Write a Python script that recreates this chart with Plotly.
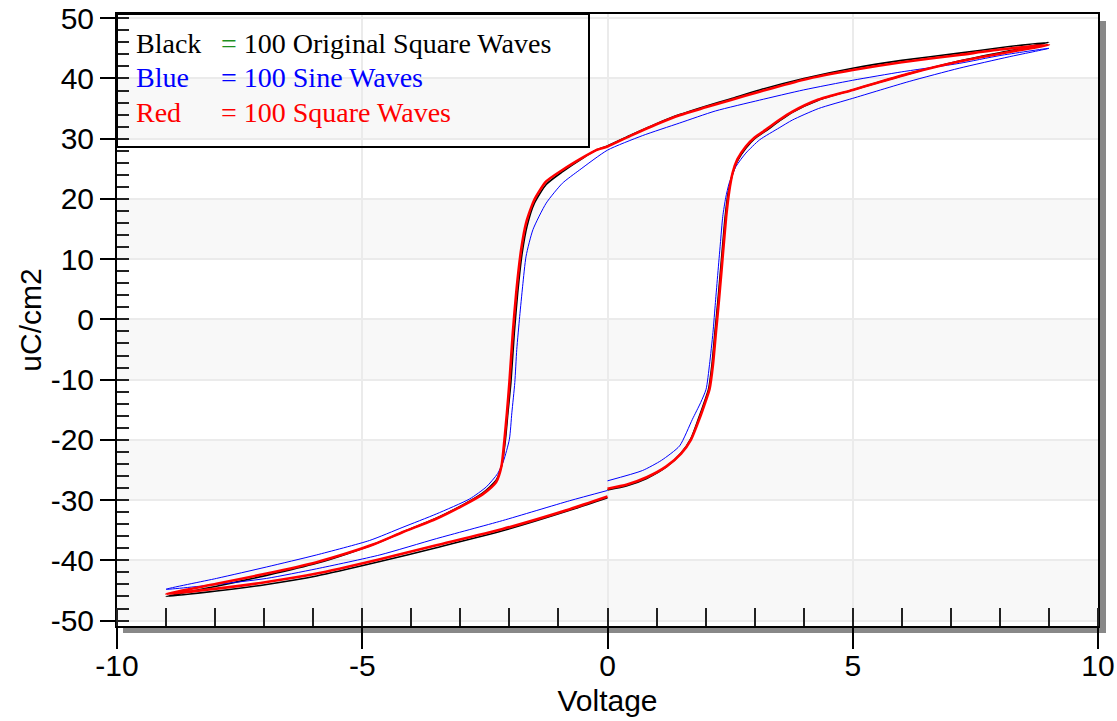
import plotly.graph_objects as go

# ---------------- data ----------------
# Red = 100 Square Waves : loop starts at V=0 on the lower branch, rises to +9 V,
# falls along the upper branch to -9 V, then returns to 0 V.
red_v = [0.0, 0.4, 0.8, 1.2, 1.5, 1.7, 1.87, 2.0, 2.08, 2.15, 2.21, 2.27, 2.32, 2.37, 2.42,
         2.48, 2.55, 2.65, 2.82, 3.0, 3.23, 3.5, 3.77, 4.3, 5.0, 5.5, 6.15, 7.17, 8.19, 9.0,
         8.0, 7.17, 6.0, 5.0, 4.0, 3.1, 2.5, 2.0, 1.47, 1.0, 0.5, 0.0, -0.23, -0.5, -0.92,
         -1.25, -1.49, -1.66, -1.76, -1.86, -1.93, -2.0, -2.05, -2.1, -2.16, -2.27, -2.54,
         -2.95, -3.49, -4.17, -4.75, -5.3, -5.93, -6.95, -7.97, -9.0,
         -7.97, -6.95, -5.93, -4.64, -3.49, -2.14, -0.77, 0.0]
red_p = [-28.1, -27.4, -26.2, -24.4, -22.3, -20.0, -16.6, -13.6, -11.6, -7.5, -2.2, 3.0, 7.7, 12.5, 17.1,
         21.2, 24.3, 26.6, 28.7, 30.2, 31.5, 33.1, 34.5, 36.5, 38.1, 39.3, 40.8, 42.8, 44.4, 45.6,
         44.8, 43.9, 42.7, 41.4, 39.8, 37.8, 36.4, 35.2, 33.9, 32.4, 30.6, 28.7, 28.1, 26.9, 24.8,
         22.9, 19.9, 16.0, 11.6, 4.5, -2.2, -10.5, -15.5, -19.9, -24.3, -27.0, -29.0,
         -30.9, -33.1, -35.3, -37.3, -38.8, -40.3, -42.2, -43.9, -45.6,
         -44.7, -43.6, -42.2, -39.8, -37.5, -34.8, -31.5, -29.4]

# Blue = 100 Sine Waves
blue_v = [0.0, 0.71, 1.1, 1.47, 1.73, 1.9, 2.01, 2.08, 2.15, 2.2, 2.25, 2.3, 2.35, 2.41, 2.48,
          2.62, 2.82, 3.1, 3.5, 3.77, 4.3, 5.0, 6.15, 7.17, 8.19, 9.0,
          8.0, 7.17, 6.0, 5.0, 4.0, 3.1, 2.2, 1.47, 0.71, 0.0, -0.57, -0.92, -1.25, -1.52,
          -1.66, -1.73, -1.79, -1.85, -1.89, -1.95, -2.0, -2.12, -2.24, -2.47, -2.81, -3.49,
          -4.17, -4.85, -5.93, -6.95, -7.97, -9.0,
          -7.97, -6.95, -5.93, -4.64, -3.49, -2.14, -0.77, 0.0]
blue_p = [-26.8, -25.1, -23.4, -21.0, -16.6, -13.8, -11.6, -7.5, -2.2, 2.8, 7.7, 12.5, 17.1, 20.2, 22.6,
          25.4, 27.6, 29.8, 31.8, 33.1, 35.0, 36.7, 39.5, 41.7, 43.6, 45.0,
          43.8, 42.5, 41.1, 39.7, 38.1, 36.4, 34.6, 32.6, 30.5, 28.1, 24.8, 22.6, 19.3, 14.9,
          10.5, 5.5, 0.5, -5.0, -10.5, -15.5, -19.9, -23.5, -25.6, -27.8, -29.8, -32.3,
          -34.5, -36.7, -39.1, -41.1, -43.0, -44.8,
          -44.0, -43.0, -41.4, -39.1, -36.4, -33.4, -30.1, -28.4]

# Black = 100 Original Square Waves
black_v = [0.0, 0.4, 0.8, 1.2, 1.5, 1.7, 1.85, 1.98, 2.06, 2.13, 2.19, 2.25, 2.3, 2.35, 2.4,
           2.46, 2.54, 2.65, 2.82, 3.0, 3.23, 3.5, 3.77, 4.3, 5.0, 6.15, 7.17, 8.19, 9.0,
           8.0, 7.17, 6.0, 5.0, 4.0, 3.1, 2.5, 2.0, 1.47, 1.0, 0.5, 0.0, -0.23, -0.5, -0.92,
           -1.25, -1.49, -1.64, -1.74, -1.83, -1.9, -1.97, -2.03, -2.08, -2.15, -2.27, -2.54,
           -2.95, -3.49, -4.17, -4.75, -5.3, -5.93, -6.95, -7.97, -9.0,
           -7.97, -6.95, -5.93, -4.64, -3.49, -2.14, -0.77, 0.0]
black_p = [-28.3, -27.6, -26.4, -24.5, -22.2, -19.8, -16.6, -13.6, -11.6, -7.5, -2.2, 3.0, 7.7, 12.5, 17.1,
           21.0, 23.9, 26.3, 28.4, 30.0, 31.3, 32.9, 34.4, 36.4, 38.1, 40.8, 42.9, 44.6, 46.0,
           45.1, 44.2, 43.0, 41.7, 40.0, 38.1, 36.6, 35.4, 34.0, 32.5, 30.7, 28.8, 28.1, 26.8, 24.5,
           22.4, 19.3, 15.5, 11.0, 4.5, -2.2, -10.5, -15.5, -19.9, -24.0, -26.7, -28.8,
           -30.8, -33.0, -35.3, -37.3, -38.9, -40.5, -42.5, -44.3, -46.0,
           -45.1, -44.0, -42.6, -40.2, -37.9, -35.1, -31.7, -29.6]

x_tickvals = [-10, -5, 0, 5, 10]
x_ticktext = ["-10", "-5", "0", "5", "10"]
y_tickvals = [-50, -40, -30, -20, -10, 0, 10, 20, 30, 40, 50]
y_ticktext = ["-50", "-40", "-30", "-20", "-10", "0", "10", "20", "30", "40", "50"]
band_ranges = [(30, 40), (10, 20), (-10, 0), (-30, -20), (-50, -40)]

legend_rows = [
    ("Black", "black", "<span style='color:#1f8f1f'>=</span> 100 Original Square Waves"),
    ("Blue", "#0000ff", "= 100 Sine Waves"),
    ("Red", "#ff0000", "= 100 Square Waves"),
]

# ---------------- layout geometry ----------------
W, H = 1117, 721
L, R, T, B = 117, 19, 14, 95
PW, PH = W - L - R, H - T - B


def px_x(px):
    return (px - L) / PW


def px_y(py):
    return (H - B - py) / PH


fig = go.Figure()
for v, p, col, wid in [(black_v, black_p, "black", 1.6),
                       (blue_v, blue_p, "#0000ff", 1.0),
                       (red_v, red_p, "#ff0000", 2.6)]:
    fig.add_trace(go.Scatter(x=v, y=p, mode="lines",
                             line=dict(color=col, width=wid, shape="spline", smoothing=0.6),
                             hoverinfo="skip", showlegend=False))

shapes = [
    # drop shadow of the frame
    dict(type="rect", xref="paper", yref="paper", x0=px_x(123), x1=px_x(1106),
         y0=px_y(633), y1=px_y(21), fillcolor="#888888", line=dict(width=0), layer="below"),
    # white plot area over the shadow
    dict(type="rect", xref="paper", yref="paper", x0=0, x1=1, y0=0, y1=1,
         fillcolor="white", line=dict(width=0), layer="below"),
]
for lo, hi in band_ranges:
    shapes.append(dict(type="rect", xref="x", yref="y", x0=-10, x1=10, y0=lo, y1=hi,
                       fillcolor="#f8f8f8", line=dict(width=0), layer="below"))
# legend frame (transparent)
shapes.append(dict(type="rect", xref="paper", yref="paper", x0=0, x1=px_x(589),
                   y0=px_y(147), y1=1, fillcolor="rgba(0,0,0,0)",
                   line=dict(color="black", width=2), layer="above"))

annotations = []
for i, (name, col, rest) in enumerate(legend_rows):
    yc = px_y(43 + 35 * i)
    annotations.append(dict(xref="paper", yref="paper", x=px_x(134), y=yc, xanchor="left",
                            yanchor="middle", text=name, showarrow=False,
                            font=dict(family="Liberation Serif", size=28, color=col)))
    annotations.append(dict(xref="paper", yref="paper", x=px_x(219), y=yc, xanchor="left",
                            yanchor="middle", text=rest, showarrow=False,
                            font=dict(family="Liberation Serif", size=28, color=col)))

axis_font = dict(family="Liberation Sans", size=30, color="black")

fig.update_layout(
    width=W, height=H,
    margin=dict(l=L, r=R, t=T, b=B, pad=0, autoexpand=False),
    paper_bgcolor="white", plot_bgcolor="white",
    shapes=shapes, annotations=annotations,
    xaxis=dict(range=[-10, 10], tickmode="array", tickvals=x_tickvals, ticktext=x_ticktext,
               automargin=False, ticklabelstandoff=-9,
               ticks="outside", ticklen=21, tickwidth=1.5, tickcolor="black",
               showline=True, linecolor="black", linewidth=2, mirror=True,
               showgrid=True, gridcolor="#ebebeb", gridwidth=1.5, zeroline=False,
               minor=dict(ticks="inside", tickmode="linear", tick0=0, dtick=1, ticklen=18,
                          tickwidth=1.5, tickcolor="#222222", showgrid=False),
               tickfont=axis_font,
               title=dict(text="Voltage", font=axis_font, standoff=9)),
    yaxis=dict(range=[-50.9, 50.7], tickmode="array", tickvals=y_tickvals, ticktext=y_ticktext,
               automargin=False,
               ticks="outside", ticklen=15, tickwidth=1.5, tickcolor="black",
               showline=True, linecolor="black", linewidth=2, mirror=True,
               showgrid=True, gridcolor="#ebebeb", gridwidth=1.5, zeroline=False,
               minor=dict(ticks="inside", tickmode="linear", tick0=0, dtick=2, ticklen=12,
                          tickwidth=1.5, tickcolor="#222222", showgrid=False),
               tickfont=axis_font,
               title=dict(text="uC/cm2", font=axis_font, standoff=0)),
)

fig.write_html("out.html")
